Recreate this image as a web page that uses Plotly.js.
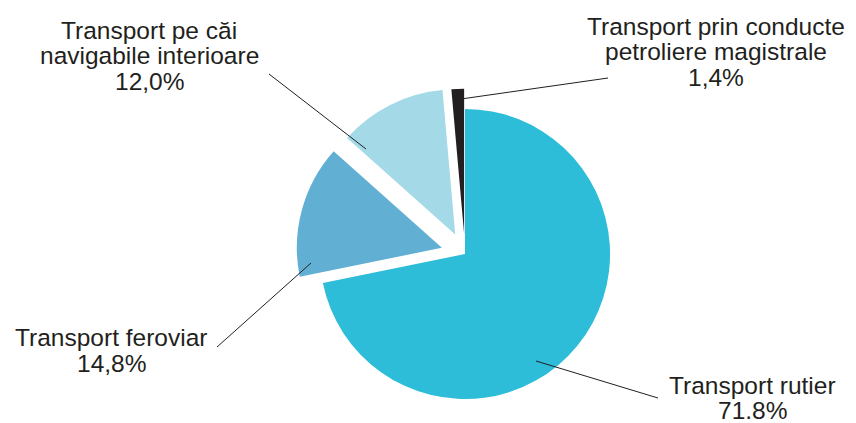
<!DOCTYPE html>
<html><head><meta charset="utf-8">
<script src="https://cdn.plot.ly/plotly-3.0.1.min.js"></script>
<style>html,body{margin:0;padding:0;background:#fff}</style>
</head><body><div id="chart" style="width:856px;height:423px"></div>
<script>
const categories = ["Transport rutier", "Transport feroviar", "Transport pe căi navigabile interioare", "Transport prin conducte petroliere magistrale"];
const shares = [71.8, 14.8, 12.0, 1.4];
const valueLabels = ["71.8%", "14,8%", "12,0%", "1,4%"];
const labelLines = [["Transport rutier"], ["Transport feroviar"], ["Transport pe căi", "navigabile interioare"], ["Transport prin conducte", "petroliere magistrale"]];

// styling / layout (not data)
const colors = ["#2DBDD8", "#62AFD4", "#A4DAE8", "#231F20"];
const pulls = [0, 0.165, 0.15, 0.14];
const W = 856, H = 423;
const px = x => x / W, py = y => (H - y) / H;
const labelPos = [[752, 385], [111, 337.5], [149, 30.5], [716, 26.5]];
const leaders = [[[658, 398], [536, 361]], [[217, 347], [311, 263]], [[269, 74], [366, 149]], [[608, 78], [454, 100]]];
const lineGap = 25.5;
const textColor = "#231F20";
const font = {family: "Liberation Sans, Arial, sans-serif", size: 24.5, color: textColor};

const annotations = [];
categories.forEach((c, i) => {
  const lines = labelLines[i].concat([valueLabels[i]]);
  lines.forEach((t, j) => {
    annotations.push({
      xref: "paper", yref: "paper",
      x: px(labelPos[i][0]), y: py(labelPos[i][1] + j * lineGap),
      xanchor: "center", yanchor: "middle",
      text: t, showarrow: false, font: font
    });
  });
});
const shapes = leaders.map(l => ({
  type: "line", xref: "paper", yref: "paper",
  x0: px(l[0][0]), y0: py(l[0][1]), x1: px(l[1][0]), y1: py(l[1][1]),
  line: {color: textColor, width: 1}
}));

const cx = 465, cy = 254, half = 169;
const data = [{
  type: "pie",
  labels: categories,
  values: shares,
  sort: false,
  direction: "clockwise",
  rotation: 0,
  pull: pulls,
  marker: {colors: colors, line: {width: 0}},
  textinfo: "none",
  hoverinfo: "label+percent",
  showlegend: false,
  domain: {x: [px(cx - half), px(cx + half)], y: [py(cy + half), py(cy - half)]}
}];
const layout = {
  width: W, height: H,
  margin: {l: 0, r: 0, t: 0, b: 0},
  paper_bgcolor: "#ffffff",
  showlegend: false,
  annotations: annotations,
  shapes: shapes
};
Plotly.newPlot("chart", data, layout, {staticPlot: true});
</script>
</body></html>
